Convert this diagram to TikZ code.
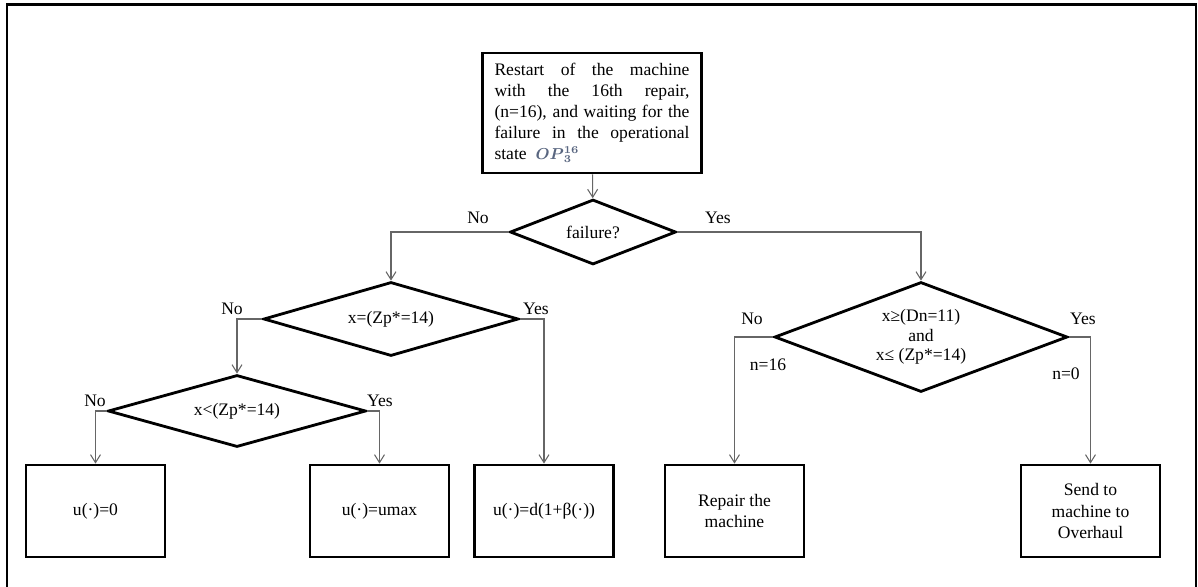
\documentclass[tikz,border=0pt]{standalone}
\usepackage{fontspec}
\setmainfont{Liberation Serif}
\usepackage{amsmath,amssymb}
\usepackage{tikz}
\usetikzlibrary{shapes,arrows.meta}
\usetikzlibrary{positioning,calc}
\definecolor{opgray}{rgb}{0.35,0.40,0.50}
\newcommand{\OPstate}{{\small\color{opgray}$\boldsymbol{OP}^{\boldsymbol{16}}_{\boldsymbol{3}}$}}

\begin{document}
\begin{tikzpicture}[x=0.02cm,y=-0.02cm,
    box/.style={draw,line width=1.6pt,minimum width=2.78cm,minimum height=1.84cm,align=center,inner sep=2pt},
    test/.style={draw,diamond,line width=1.6pt,inner sep=1pt,align=center},
    link/.style={draw=gray!80!black,line width=0.6pt,-{Straight Barb[length=1.6mm,width=2mm]}}]
  \useasboundingbox (0,0) rectangle (1198,586);
  \draw[line width=1.2pt] (7,590) -- (7,4.5) -- (1196,4.5) -- (1196,590);
	  % start of the chart
	  \node[box,minimum width=4.38cm,minimum height=2.4cm,text width=3.9cm,align=justify] (start) at (592,113)
	    {Restart of the machine\linebreak with the 16th repair,\linebreak (n=16), and waiting for the\linebreak failure in the operational\linebreak state\ \ \OPstate};
	  % decisions
	  \node[test,minimum width=3.32cm,minimum height=1.3cm,aspect=2.55] (fail) at (593,232) {failure?};
	  \node[test,minimum width=5.1cm,minimum height=1.48cm,aspect=3.45] (zeq) at (391,319) {x=(Zp*=14)};
	  \node[test,minimum width=5.16cm,minimum height=1.44cm,aspect=3.58] (zlt) at (237,411) {x<(Zp*=14)};
	  \node[test,minimum width=5.86cm,minimum height=2.2cm,aspect=2.66] (dn) at (921,337) {x≥(Dn=11)\\[-1pt] and\\[-1pt] x≤ (Zp*=14)};
	  % actions
	  \node[box] (uzero) at (95.5,511) {u(·)=0};
	  \node[box] (umax) at (379.5,511) {u(·)=umax};
	  \node[box] (ud) at (544,511) {u(·)=d(1+β(·))};
	  \node[box] (repair) at (734.5,511) {Repair the\\ machine};
	  \node[box] (over) at (1090.5,511) {Send to\\ machine to\\ Overhaul};
	  % connectors
	  \draw[link] (start) -- (fail);
	  \draw[link] (fail.west) -| (zeq.north);
	  \draw[link] (fail.east) -| (dn.north);
	  \draw[link] (zeq.west) -| (zlt.north);
	  \draw[link] (zeq.east) -| (ud.north);
	  \draw[link] (zlt.west) -| (uzero.north);
	  \draw[link] (zlt.east) -| (umax.north);
	  \draw[link] (dn.west) -| (repair.north);
	  \draw[link] (dn.east) -| (over.north);
	  % labels
	  \node (failno) at (478,218) {No};
	  \node (failyes) at (718,218) {Yes};
	  \node (zeqno) at (232,309) {No};
	  \node (zeqyes) at (536,309) {Yes};
	  \node (zltno) at (95,401) {No};
	  \node (zltyes) at (380,401) {Yes};
	  \node (dnno) at (752,319) {No};
	  \node (dnyes) at (1083,319) {Yes};
	  \node (nsix) at (768,365) {n=16};
	  \node (nzero) at (1066,374) {n=0};
\end{tikzpicture}
\end{document}
